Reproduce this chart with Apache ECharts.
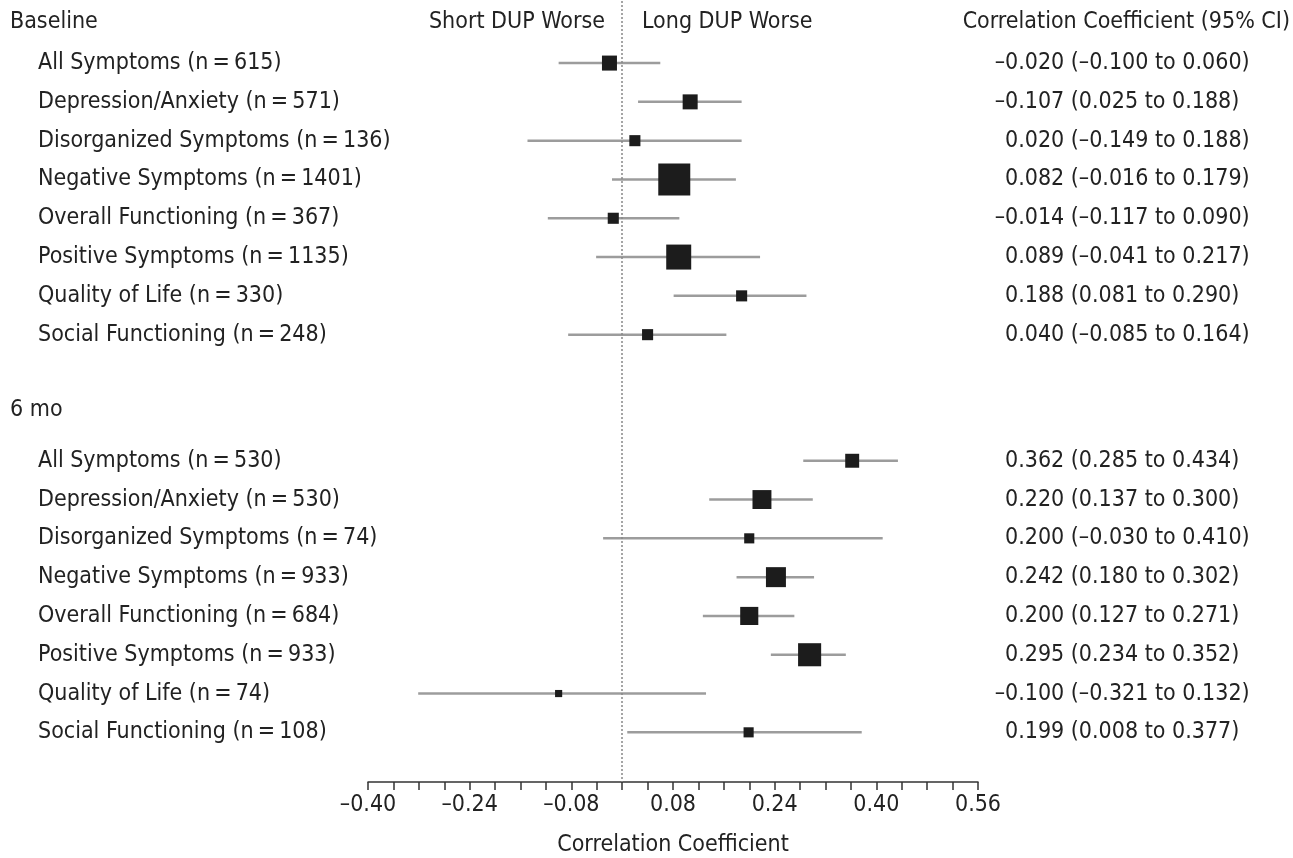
<!DOCTYPE html>
<html>
<head>
<meta charset="utf-8">
<script src="https://cdn.jsdelivr.net/npm/echarts@6/dist/echarts.min.js"></script>
<style>
  html, body { margin: 0; padding: 0; background: #fff; }
  #chart { width: 1293px; height: 858px; }
</style>
</head>
<body>
<div id="chart"></div>
<script>
const groups = ['Baseline', '6 mo'];
const outcomes = [
  'All Symptoms', 'Depression/Anxiety', 'Disorganized Symptoms', 'Negative Symptoms',
  'Overall Functioning', 'Positive Symptoms', 'Quality of Life', 'Social Functioning'
];

// baseline
const baselineN = [615, 571, 136, 1401, 367, 1135, 330, 248];
const baselineEst = [-0.020, 0.107, 0.020, 0.082, -0.014, 0.089, 0.188, 0.040];
const baselineLow = [-0.100, 0.025, -0.149, -0.016, -0.117, -0.041, 0.081, -0.085];
const baselineHigh = [0.060, 0.188, 0.188, 0.179, 0.090, 0.217, 0.290, 0.164];
const baselinePrinted = [-0.020, -0.107, 0.020, 0.082, -0.014, 0.089, 0.188, 0.040]; // as printed in the table
const baselineWeight = [22, 22, 12, 100, 12, 61, 12, 12]; // relative box area

// 6 months
const sixMoN = [530, 530, 74, 933, 684, 933, 74, 108];
const sixMoEst = [0.362, 0.220, 0.200, 0.242, 0.200, 0.295, -0.100, 0.199];
const sixMoLow = [0.285, 0.137, -0.030, 0.180, 0.127, 0.234, -0.321, 0.008];
const sixMoHigh = [0.434, 0.300, 0.410, 0.302, 0.271, 0.352, 0.132, 0.377];
const sixMoWeight = [19, 35, 10, 39, 32, 52, 5, 10];

const xTicks = [-0.40, -0.24, -0.08, 0.08, 0.24, 0.40, 0.56];

const FONT = '"Liberation Sans Narrow", "DejaVu Sans Condensed", "Roboto", sans-serif';
const FS = 23;
const TXT = '#222';
const DASH = '\u2013';

const fmt = (v, d) => (v < 0 ? DASH : '') + Math.abs(v).toFixed(d);

// rows: y slot, kind, values
const rows = [];
rows.push({ v: -0.05, kind: 'header', title: groups[0], top: true });
outcomes.forEach((name, i) => {
  rows.push({
    v: 1 + i, kind: 'row',
    label: name + ' (n\u2009=\u2009' + baselineN[i] + ')',
    est: baselineEst[i], lo: baselineLow[i], hi: baselineHigh[i], w: baselineWeight[i],
    ci: fmt(baselinePrinted[i], 3) + ' (' + fmt(baselineLow[i], 3) + ' to ' + fmt(baselineHigh[i], 3) + ')'
  });
});
rows.push({ v: 9.95, kind: 'header', title: groups[1] });
outcomes.forEach((name, i) => {
  rows.push({
    v: 11.25 + i, kind: 'row',
    label: name + ' (n\u2009=\u2009' + sixMoN[i] + ')',
    est: sixMoEst[i], lo: sixMoLow[i], hi: sixMoHigh[i], w: sixMoWeight[i],
    ci: fmt(sixMoEst[i], 3) + ' (' + fmt(sixMoLow[i], 3) + ' to ' + fmt(sixMoHigh[i], 3) + ')'
  });
});

// width of the hanging minus in the right column
const ctx = document.createElement('canvas').getContext('2d');
ctx.font = FS + 'px ' + FONT;
const dashW = ctx.measureText(DASH).width;

const chart = echarts.init(document.getElementById('chart'));

function text(str, x, y, align) {
  return {
    type: 'text', x: x, y: y,
    style: { text: str, fill: TXT, font: FS + 'px ' + FONT, textAlign: align || 'left', textVerticalAlign: 'middle' }
  };
}

function renderItem(params, api) {
  const r = rows[params.dataIndex];
  const y = api.coord([0, r.v])[1];
  if (r.kind === 'header') {
    const kids = [text(r.title, 10, y)];
    if (r.top) {
      kids.push(text('Short DUP Worse', 605, y, 'right'));
      kids.push(text('Long DUP Worse', 642, y, 'left'));
      kids.push(text('Correlation Coefficient (95% CI)', 1290, y, 'right'));
    }
    return { type: 'group', children: kids };
  }
  const x0 = api.coord([r.lo, r.v])[0];
  const x1 = api.coord([r.hi, r.v])[0];
  const xc = api.coord([r.est, r.v])[0];
  const s = 32 * Math.sqrt(r.w / 100);
  const ciX = r.ci.charAt(0) === DASH ? 1005 - dashW : 1005;
  return {
    type: 'group',
    children: [
      { type: 'line', shape: { x1: x0, y1: y, x2: x1, y2: y }, style: { stroke: '#9c9c9c', lineWidth: 2.5 } },
      { type: 'rect', shape: { x: xc - s / 2, y: y - s / 2, width: s, height: s }, style: { fill: '#1c1c1c' } },
      text(r.label, 38, y),
      text(r.ci, ciX, y)
    ]
  };
}

chart.setOption({
  animation: false,
  grid: { left: 368, right: 315, top: 1, bottom: 76, outerBoundsMode: 'none', containLabel: false },
  xAxis: {
    type: 'value', position: 'bottom', min: -0.40, max: 0.56, interval: 0.04,
    splitLine: { show: false },
    axisLine: { onZero: false, lineStyle: { color: '#333', width: 1.5 } },
    axisTick: { length: 8, lineStyle: { color: '#333', width: 1.5 } },
    axisLabel: {
      margin: 12, color: TXT, fontFamily: FONT, fontSize: FS,
      formatter: v => {
        const hit = xTicks.find(t => Math.abs(t - v) < 1e-6);
        return hit === undefined ? '' : fmt(hit, 2);
      }
    },
    name: 'Correlation Coefficient', nameLocation: 'middle', nameGap: 52,
    nameTextStyle: { color: TXT, fontFamily: FONT, fontSize: FS }
  },
  yAxis: { type: 'value', inverse: true, min: -0.6, max: 19.53, show: false },
  series: [
    {
      type: 'line', data: [], silent: true,
      markLine: {
        silent: true, symbol: 'none', label: { show: false },
        lineStyle: { type: [2, 2], color: '#888', width: 1.5 },
        data: [{ xAxis: 0 }]
      }
    },
    {
      type: 'custom', renderItem: renderItem, clip: false,
      data: rows.map(r => [r.v, r.est || 0, r.lo || 0, r.hi || 0])
    }
  ]
});
</script>
</body>
</html>
